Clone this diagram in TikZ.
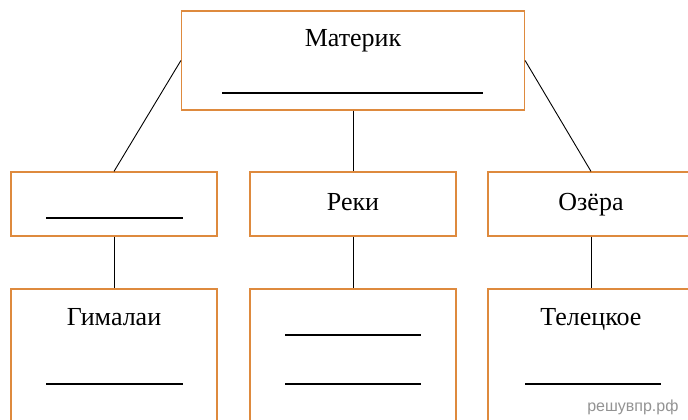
\documentclass[tikz,border=0pt]{standalone}
\usepackage{fontspec}
\setmainfont{Liberation Serif}
\newfontfamily\wmfont{Liberation Sans}
\usepackage{tikz}

\definecolor{boxorange}{RGB}{222,138,62}
\tikzset{
  box/.style={draw=boxorange, line width=1.2pt, minimum width=206pt, minimum height=64pt, inner sep=0pt},
  lbl/.style={anchor=base, font=\fontsize{26}{30}\selectfont},
  blank/.style={line width=1.1pt}
}

\begin{document}
\begin{tikzpicture}[x=1pt,y=-1pt]

\useasboundingbox (0,0) rectangle (688,420);
\clip (0,0) rectangle (688,420);

\node[box, minimum width=343pt, minimum height=99pt] (materik) at (353,60.5) {};
\node[box] (midL) at (114,204) {};
\node[box] (midC) at (353,204) {};
\node[box] (midR) at (591,204) {};
\node[box, minimum height=140pt] (botL) at (114,359) {};
\node[box, minimum height=140pt] (botC) at (353,359) {};
\node[box, minimum height=140pt] (botR) at (591,359) {};

\draw [line width=0.9pt] (materik.west) -- (midL.north);
\draw [line width=0.9pt] (materik.south) -- (midC.north);
\draw [line width=0.9pt] (materik.east) -- (midR.north);
\draw [line width=0.9pt] (midL.south) -- (botL.north);
\draw [line width=0.9pt] (midC.south) -- (botC.north);
\draw [line width=0.9pt] (midR.south) -- (botR.north);

\node[lbl] (tMaterik) at (353,47) {Материк};
\node[lbl] (tReki) at (353,210) {Реки};
\node[lbl] (tOzera) at (591,210) {Озёра};
\node[lbl] (tGimalai) at (114,325) {Гималаи};
\node[lbl] (tTeleckoe) at (591,325) {Телецкое};

\draw [blank] (222,93) -- (483,93);
\draw [blank] (46,218) -- (183,218);
\draw [blank] (46,384) -- (183,384);
\draw [blank] (285,335) -- (421,335);
\draw [blank] (285,384) -- (421,384);
\draw [blank] (525,384) -- (661,384);

\node[anchor=base east, text=gray!85, font=\wmfont\fontsize{16}{18}\selectfont] (wm) at (682,411) {решувпр.рф};
\end{tikzpicture}
\end{document}
